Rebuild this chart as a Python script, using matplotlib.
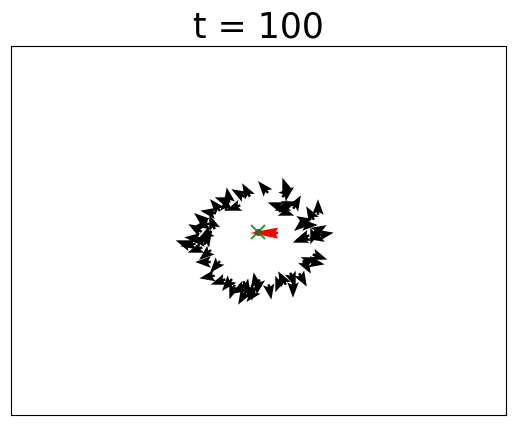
import numpy as np
import matplotlib
matplotlib.use("Agg")
import matplotlib.pyplot as plt

# agent positions (data units) and headings (degrees)
agent_x = [-1.25, -2.05, -3.05, -3.65, -2.55, -4.35, -5.05, -4.65, -5.65, -6.35, -5.35, -6.65, -5.85, -3.25,
           0.45, 2.65, 2.95, 1.65, 2.35, 3.15, 3.85, 2.85, 5.95, 5.15, 4.45, 4.15, 5.15, 6.15, 6.75, 4.35, 5.45,
           -6.05, -5.05, -7.05, -6.35, -5.35, -5.55, -4.35, -7.55,
           -5.15, -4.05, -3.15, -2.65, -1.65, -0.65, -0.35, -1.15, -2.05,
           4.15, 5.95, 5.15, 6.15, 4.85, 5.85, -0.05, -0.55, 1.15, 2.35, 3.45, 4.45, 3.45, 1.95]
agent_y = [4.05, 3.75, 3.55, 3.05, 2.25, 2.55, 1.85, 0.85, 0.55, 0.25, -0.45, -0.75, 1.25, 2.75,
           4.35, 4.55, 3.85, 2.55, 2.25, 2.65, 2.85, 1.75, 2.35, 1.75, 1.05, 0.45, 0.55, 0.15, -0.35, -0.75, -0.65,
           -0.95, -0.75, -1.45, -1.95, -2.45, -3.15, -3.65, -1.25,
           -4.65, -5.15, -5.45, -6.15, -6.75, -6.25, -4.95, -5.75, -5.95,
           -0.95, -0.75, -2.95, -2.65, -3.65, -3.25, -5.65, -6.45, -6.15, -4.75, -4.95, -4.95, -5.95, -5.45]
agent_heading = [120, 150, 100, 160, 200, 130, 170, 110, 190, 150, 210, 175, 140, 90,
                 130, 110, 40, 160, 200, 20, 60, 340, 90, 120, 150, 220, 0, 30, 10, 200, 250,
                 170, 60, 190, 200, 220, 180, 230, 160,
                 190, 200, 230, 250, 240, 270, 100, 300, 210,
                 200, 330, 20, 340, 300, 350, 260, 10, 280, 120, 290, 300, 270, 250]

# leader / target
leader_x = [-0.85]
leader_y = [-0.25]
leader_heading = [180]
target_x = [-0.05]
target_y = [-0.15]

title_text = "t = 100"

fig = plt.figure(figsize=(5.15, 4.26), dpi=100)
ax = fig.add_axes([0.0214, 0.0258, 0.9611, 0.8662])
ax.set_xlim(-24.75, 24.75)
ax.set_ylim(-18.45, 18.45)

h = np.deg2rad(np.array(agent_heading, dtype=float))
ax.quiver(agent_x, agent_y, np.cos(h), np.sin(h), color='black',
          angles='xy', units='dots', scale_units='dots', scale=1 / 15.5,
          width=2.5, headwidth=4.6, headlength=6.2, headaxislength=5.2,
          minshaft=0.1, pivot='mid', zorder=2)

lh = np.deg2rad(np.array(leader_heading, dtype=float))
ax.quiver(leader_x, leader_y, np.cos(lh), np.sin(lh), color='red',
          angles='xy', units='dots', scale_units='dots', scale=1 / 28.0,
          width=2.5, headwidth=4.4, headlength=11.2, headaxislength=10.4,
          minshaft=0.1, pivot='tip', zorder=3)

ax.plot(target_x, target_y, 'x', color='#2ca02c', markersize=10, mew=1.5, zorder=4)
ax.plot(target_x, target_y, 'o', color='#4d5a1f', markersize=4, zorder=5)

ax.set_xticks([])
ax.set_yticks([])
ax.set_title(title_text, fontsize=25)

fig.savefig("out.png", dpi=100)
